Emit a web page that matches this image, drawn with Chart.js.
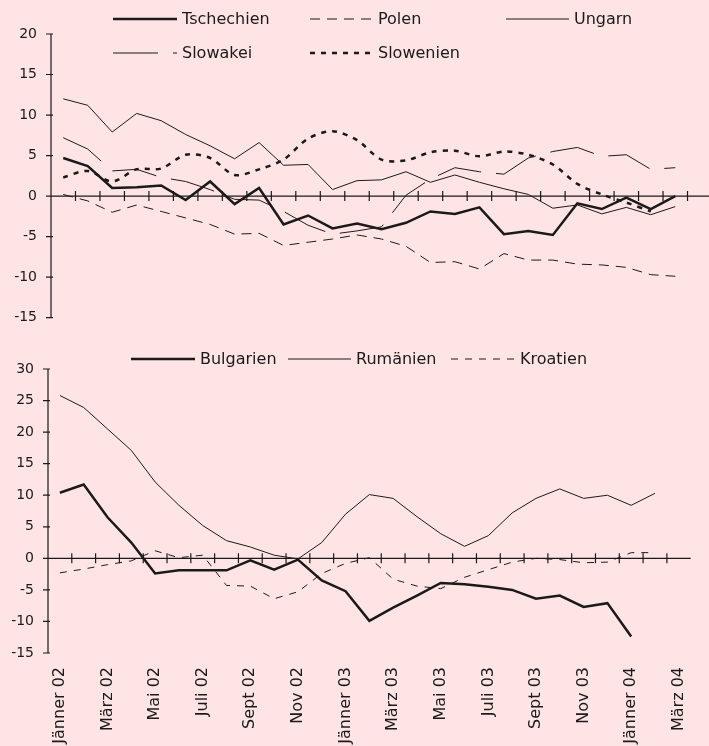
<!DOCTYPE html>
<html>
<head>
<meta charset="utf-8">
<script src="https://cdn.jsdelivr.net/npm/chart.js@4/dist/chart.umd.min.js"></script>
<style>
    html, body { margin: 0; padding: 0; background: #ffe4e6; overflow: hidden; }
    body { width: 709px; height: 746px; position: relative; }
    canvas { position: absolute; left: 0; }
    #topChart { top: 0; }
    #bottomChart { top: 340px; }
</style>
</head>
<body>
<canvas id="topChart" width="712" height="340"></canvas>
<canvas id="bottomChart" width="712" height="420"></canvas>
<script>
const months = ['Jänner 02', 'Feb 02', 'März 02', 'April 02', 'Mai 02', 'Juni 02', 'Juli 02', 'Aug 02', 'Sept 02', 'Okt 02', 'Nov 02', 'Dez 02',
    'Jänner 03', 'Feb 03', 'März 03', 'April 03', 'Mai 03', 'Juni 03', 'Juli 03', 'Aug 03', 'Sept 03', 'Okt 03', 'Nov 03', 'Dez 03',
    'Jänner 04', 'Feb 04', 'März 04'];

const topTicks = [-15, -10, -5, 0, 5, 10, 15, 20];
const bottomTicks = [-15, -10, -5, 0, 5, 10, 15, 20, 25, 30];

const tschechien = [4.7, 3.7, 1.0, 1.1, 1.3, -0.5, 1.8, -1.0, 1.0, -3.5, -2.4, -4.0, -3.4, -4.1, -3.3, -1.9, -2.2, -1.4, -4.7, -4.3, -4.8, -0.9, -1.6, -0.2, -1.6, 0.0, null];
const polen = [0.2, -0.6, -2.0, -1.1, -1.9, -2.7, -3.5, -4.7, -4.6, -6.1, -5.7, -5.3, -4.8, -5.3, -6.2, -8.2, -8.1, -9.0, -7.1, -7.9, -7.9, -8.4, -8.5, -8.8, -9.7, -9.9, null];
const ungarn = [12.0, 11.2, 7.9, 10.2, 9.3, 7.6, 6.2, 4.6, 6.6, 3.8, 3.9, 0.8, 1.9, 2.0, 3.0, 1.7, 2.6, 1.7, 0.9, 0.2, -1.5, -1.1, -2.2, -1.4, -2.3, -1.3, null];
const slowakei = [7.2, 5.8, 3.1, 3.3, 2.3, 1.8, 0.8, -0.4, -0.5, -1.9, -3.6, -4.7, -4.3, -3.8, 0.1, 2.1, 3.5, 3.0, 2.7, 4.7, 5.5, 6.0, 4.9, 5.1, 3.3, 3.5, null];
const slowenien = [2.3, 3.1, 1.8, 3.3, 3.4, 5.1, 4.7, 2.6, 3.3, 4.5, 7.1, 8.0, 6.9, 4.5, 4.4, 5.4, 5.6, 4.9, 5.5, 5.1, 3.9, 1.5, 0.2, -0.8, -1.9, null, null];

const bulgarien = [10.4, 11.7, 6.5, 2.5, -2.4, -1.9, -1.9, -1.9, -0.3, -1.8, -0.2, -3.5, -5.2, -9.9, -7.8, -5.9, -3.9, -4.1, -4.5, -5.0, -6.4, -5.9, -7.7, -7.1, -12.4, null, null];
const rumaenien = [25.8, 23.9, 20.5, 17.1, 12.1, 8.4, 5.2, 2.8, 1.8, 0.5, -0.1, 2.5, 7.0, 10.1, 9.5, 6.6, 3.9, 1.9, 3.6, 7.2, 9.5, 11.0, 9.5, 10.0, 8.4, 10.3, null];
const kroatien = [-2.3, -1.7, -1.0, -0.4, 1.2, 0.1, 0.5, -4.3, -4.4, -6.4, -5.3, -2.4, -0.8, 0.1, -3.3, -4.4, -4.8, -3.0, -1.8, -0.6, 0.0, -0.2, -0.7, -0.6, 0.9, 0.9, null];

const INK = '#1a1a1a';
const FONT = '"DejaVu Sans", sans-serif';

// y axis, zero line and the small crossing tick marks
const crossAxes = {
    id: 'crossAxes',
    beforeDatasetsDraw(chart) {
        const { ctx, chartArea, scales: { x, y } } = chart;
        const y0 = y.getPixelForValue(0);
        ctx.save();
        ctx.strokeStyle = INK;
        ctx.lineWidth = 1.2;
        ctx.beginPath();
        ctx.moveTo(chartArea.left, y.getPixelForValue(y.max));
        ctx.lineTo(chartArea.left, y.getPixelForValue(y.min));
        y.ticks.forEach(t => {
            const py = y.getPixelForValue(t.value);
            ctx.moveTo(chartArea.left - 5, py);
            ctx.lineTo(chartArea.left + 2, py);
        });
        ctx.moveTo(chartArea.left, y0);
        ctx.lineTo(chartArea.right, y0);
        for (let i = 1; i < x.ticks.length; i++) {
            const px = (x.getPixelForTick(i - 1) + x.getPixelForTick(i)) / 2;
            ctx.moveTo(px, y0 - 5);
            ctx.lineTo(px, y0 + 5);
        }
        ctx.stroke();
        ctx.restore();
    }
};

// legend drawn at fixed spots, one per dataset
const spotLegend = {
    id: 'spotLegend',
    afterDraw(chart, args, opts) {
        const { ctx } = chart;
        ctx.save();
        chart.data.datasets.forEach((ds, i) => {
            const spot = opts.spots[i];
            if (!spot) return;
            ctx.strokeStyle = ds.borderColor;
            ctx.lineWidth = ds.borderWidth;
            ctx.setLineDash(ds.borderDash || []);
            ctx.beginPath();
            ctx.moveTo(spot.x, spot.y);
            ctx.lineTo(spot.x + spot.w, spot.y);
            ctx.stroke();
            ctx.setLineDash([]);
            ctx.fillStyle = INK;
            ctx.font = '16px ' + FONT;
            ctx.textBaseline = 'middle';
            ctx.fillText(ds.label, spot.x + spot.w + 5, spot.y + 1);
        });
        ctx.restore();
    }
};

function series(label, data, width, dash, tension) {
    return {
        label,
        data,
        borderColor: INK,
        borderWidth: width,
        borderDash: dash,
        pointRadius: 0,
        tension: tension || 0,
        fill: false
    };
}

function buildPanel(ctx, datasets, ticks, opts) {
    return new Chart(ctx, {
        type: 'line',
        data: { labels: months, datasets },
        plugins: [crossAxes, spotLegend],
        options: {
            responsive: false,
            animation: false,
            layout: { padding: { top: opts.top, bottom: opts.bottom, left: 0, right: 0 } },
            plugins: {
                legend: { display: false },
                tooltip: { enabled: false },
                spotLegend: { spots: opts.spots }
            },
            scales: {
                x: {
                    display: opts.showLabels,
                    offset: true,
                    grid: { display: false, drawTicks: false },
                    border: { display: false },
                    ticks: {
                        autoSkip: false,
                        minRotation: 90,
                        maxRotation: 90,
                        padding: 14,
                        color: INK,
                        font: { family: FONT, size: 16 },
                        callback: (v, i) => (i % 2 === 0 ? months[i] : '')
                    },
                    afterFit: s => { s.height = opts.xHeight; }
                },
                y: {
                    min: ticks[0],
                    max: ticks[ticks.length - 1],
                    grid: { display: false, drawTicks: false },
                    border: { display: false },
                    ticks: {
                        stepSize: 5,
                        padding: 14,
                        color: INK,
                        font: { family: FONT, size: 14 }
                    },
                    afterFit: s => { s.width = opts.yWidth; }
                }
            }
        }
    });
}

document.addEventListener('DOMContentLoaded', () => {
    buildPanel(document.getElementById('topChart').getContext('2d'), [
        series('Tschechien', tschechien, 2.5, []),
        series('Polen', polen, 1, [10, 7]),
        series('Ungarn', ungarn, 1, []),
        series('Slowakei', slowakei, 1, [45, 15]),
        series('Slowenien', slowenien, 2.5, [5, 6], 0.3)
    ], topTicks, {
        top: 34, bottom: 14, yWidth: 51, xHeight: 0, showLabels: false,
        spots: [
            { x: 113, y: 19, w: 64 },
            { x: 310, y: 19, w: 63 },
            { x: 506, y: 19, w: 63 },
            { x: 113, y: 53, w: 64 },
            { x: 310, y: 53, w: 63 }
        ]
    });

    buildPanel(document.getElementById('bottomChart').getContext('2d'), [
        series('Bulgarien', bulgarien, 2.5, []),
        series('Rumänien', rumaenien, 1, []),
        series('Kroatien', kroatien, 1, [7, 7])
    ], bottomTicks, {
        top: 29, bottom: 0, yWidth: 48, xHeight: 107, showLabels: true,
        spots: [
            { x: 131, y: 19, w: 64 },
            { x: 288, y: 19, w: 63 },
            { x: 451, y: 19, w: 64 }
        ]
    });
});
</script>
</body>
</html>
